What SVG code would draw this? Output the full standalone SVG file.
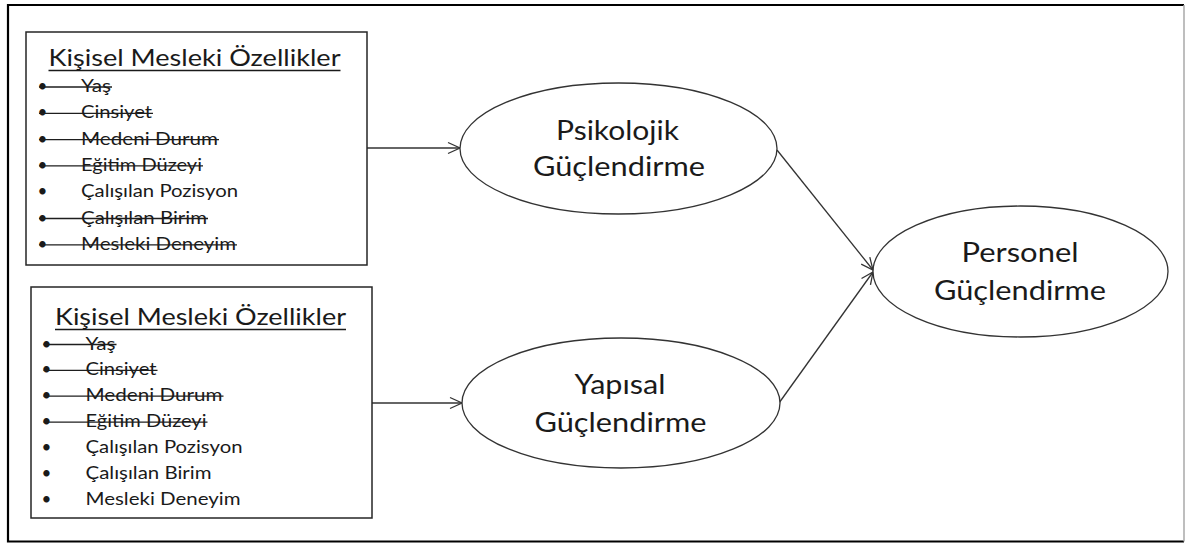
<svg xmlns="http://www.w3.org/2000/svg" width="1185" height="543" viewBox="0 0 1185 543">
<defs>
<style>
.bg{fill:#ffffff}
.box{fill:#ffffff;stroke:#262626;stroke-width:1.5}
.ell{fill:#ffffff;stroke:#333333;stroke-width:1.3}
.t{font-family:Lato,"Noto Sans","Liberation Sans",sans-serif;fill:#1a1a1a}
.title{font-size:24px}
.li{font-size:18px}
.big{font-size:27px;text-anchor:middle}
.bul{font-size:17px;text-anchor:middle}
.ul{stroke:#1a1a1a;stroke-width:1.5}
.strike{stroke:#1e1e1e;stroke-width:1.3}
.con{stroke:#333333;stroke-width:1.3;fill:none}
</style>
<marker id="arr" viewBox="-13 -7 15 14" refX="0" refY="0" markerWidth="15" markerHeight="14" markerUnits="userSpaceOnUse" orient="auto">
<path d="M-12,-5.5 L0,0 L-12,5.5" fill="none" stroke="#333333" stroke-width="1.3"/>
</marker>
</defs>
<rect class="bg" x="0" y="0" width="1185" height="543"/>
<g id="frame">
<path d="M1184,5 L8,5 L8,541.5 L1184,541.5" fill="none" stroke="#000000" stroke-width="2.2"/>
<line x1="1184" y1="5" x2="1184" y2="541.5" stroke="#a8a8a8" stroke-width="1.5"/>
</g>
<g id="connectors">
<line class="con" x1="367" y1="148" x2="460" y2="148" marker-end="url(#arr)"/>
<line class="con" x1="372" y1="403" x2="462" y2="403" marker-end="url(#arr)"/>
<line class="con" x1="777" y1="150" x2="873" y2="270" marker-end="url(#arr)"/>
<line class="con" x1="779" y1="403" x2="873" y2="272" marker-end="url(#arr)"/>
</g>
<g id="box-top">
<rect class="box" x="26" y="32" width="341" height="233"/>
<text class="t title" x="48.5" y="65.5" textLength="292" lengthAdjust="spacingAndGlyphs">Kişisel Mesleki Özellikler</text>
<line class="ul" x1="48.5" y1="70.5" x2="340.5" y2="70.5"/>
<text class="t bul" x="42.5" y="92">•</text>
<text class="t li" x="81" y="92" textLength="30" lengthAdjust="spacingAndGlyphs">Yaş</text>
<line class="strike" x1="39" y1="87" x2="112" y2="87"/>
<text class="t bul" x="42.5" y="118.3">•</text>
<text class="t li" x="81" y="118.3" textLength="71" lengthAdjust="spacingAndGlyphs">Cinsiyet</text>
<line class="strike" x1="39" y1="113.3" x2="153" y2="113.3"/>
<text class="t bul" x="42.5" y="144.6">•</text>
<text class="t li" x="81" y="144.6" textLength="137" lengthAdjust="spacingAndGlyphs">Medeni Durum</text>
<line class="strike" x1="39" y1="139.6" x2="219" y2="139.6"/>
<text class="t bul" x="42.5" y="170.9">•</text>
<text class="t li" x="81" y="170.9" textLength="121" lengthAdjust="spacingAndGlyphs">Eğitim Düzeyi</text>
<line class="strike" x1="39" y1="165.9" x2="203" y2="165.9"/>
<text class="t bul" x="42.5" y="197.2">•</text>
<text class="t li" x="81" y="197.2" textLength="157" lengthAdjust="spacingAndGlyphs">Çalışılan Pozisyon</text>
<text class="t bul" x="42.5" y="223.5">•</text>
<text class="t li" x="81" y="223.5" textLength="126" lengthAdjust="spacingAndGlyphs">Çalışılan Birim</text>
<line class="strike" x1="39" y1="218.5" x2="208" y2="218.5"/>
<text class="t bul" x="42.5" y="249.8">•</text>
<text class="t li" x="81" y="249.8" textLength="155" lengthAdjust="spacingAndGlyphs">Mesleki Deneyim</text>
<line class="strike" x1="39" y1="244.8" x2="237" y2="244.8"/>
</g>
<g id="box-bottom">
<rect class="box" x="31" y="287" width="341" height="231"/>
<text class="t title" x="55" y="324.5" textLength="291" lengthAdjust="spacingAndGlyphs">Kişisel Mesleki Özellikler</text>
<line class="ul" x1="55" y1="329.5" x2="346" y2="329.5"/>
<text class="t bul" x="46.5" y="349.5">•</text>
<text class="t li" x="85.5" y="349.5" textLength="30" lengthAdjust="spacingAndGlyphs">Yaş</text>
<line class="strike" x1="43.5" y1="344.5" x2="116.5" y2="344.5"/>
<text class="t bul" x="46.5" y="375.4">•</text>
<text class="t li" x="85.5" y="375.4" textLength="71" lengthAdjust="spacingAndGlyphs">Cinsiyet</text>
<line class="strike" x1="43.5" y1="370.4" x2="157.5" y2="370.4"/>
<text class="t bul" x="46.5" y="401.2">•</text>
<text class="t li" x="85.5" y="401.2" textLength="137" lengthAdjust="spacingAndGlyphs">Medeni Durum</text>
<line class="strike" x1="43.5" y1="396.2" x2="223.5" y2="396.2"/>
<text class="t bul" x="46.5" y="427.1">•</text>
<text class="t li" x="85.5" y="427.1" textLength="121" lengthAdjust="spacingAndGlyphs">Eğitim Düzeyi</text>
<line class="strike" x1="43.5" y1="422.1" x2="207.5" y2="422.1"/>
<text class="t bul" x="46.5" y="452.9">•</text>
<text class="t li" x="85.5" y="452.9" textLength="157" lengthAdjust="spacingAndGlyphs">Çalışılan Pozisyon</text>
<text class="t bul" x="46.5" y="478.8">•</text>
<text class="t li" x="85.5" y="478.8" textLength="126" lengthAdjust="spacingAndGlyphs">Çalışılan Birim</text>
<text class="t bul" x="46.5" y="504.6">•</text>
<text class="t li" x="85.5" y="504.6" textLength="155" lengthAdjust="spacingAndGlyphs">Mesleki Deneyim</text>
</g>
<g id="psikolojik">
<ellipse class="ell" cx="618.5" cy="148.5" rx="158.5" ry="65.5"/>
<text class="t big" x="617.5" y="140" textLength="123" lengthAdjust="spacingAndGlyphs">Psikolojik</text>
<text class="t big" x="619" y="176" textLength="172" lengthAdjust="spacingAndGlyphs">Güçlendirme</text>
</g>
<g id="yapisal">
<ellipse class="ell" cx="621" cy="403" rx="159" ry="65"/>
<text class="t big" x="620" y="394.3" textLength="91" lengthAdjust="spacingAndGlyphs">Yapısal</text>
<text class="t big" x="620.5" y="432" textLength="172" lengthAdjust="spacingAndGlyphs">Güçlendirme</text>
</g>
<g id="personel">
<ellipse class="ell" cx="1020.5" cy="271.5" rx="147.5" ry="65.5"/>
<text class="t big" x="1020" y="262" textLength="117" lengthAdjust="spacingAndGlyphs">Personel</text>
<text class="t big" x="1020" y="300" textLength="172" lengthAdjust="spacingAndGlyphs">Güçlendirme</text>
</g>
</svg>
